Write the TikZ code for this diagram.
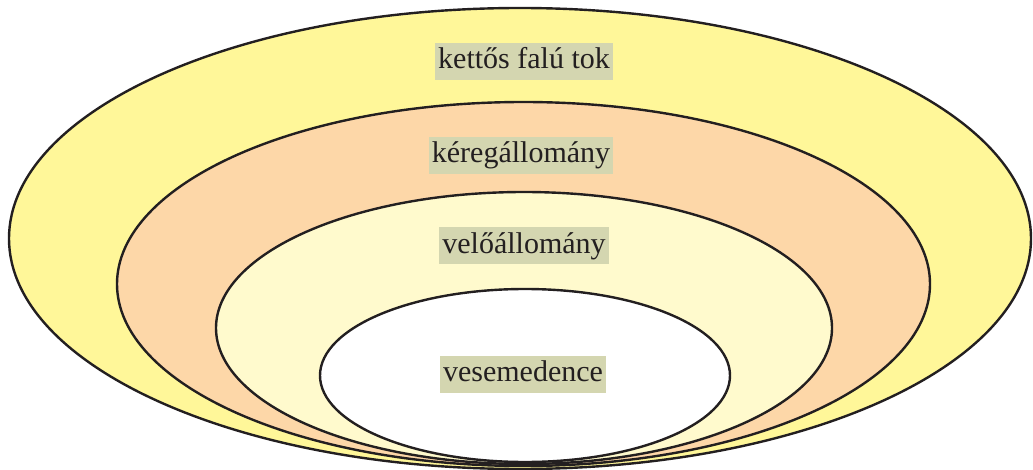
\documentclass[tikz,border=0pt]{standalone}
\usepackage{fontspec}
\setmainfont{Liberation Serif}
\usepackage{tikz}
\usepackage{xcolor}
\usetikzlibrary{positioning}
\definecolor{LayerInk}{HTML}{231F20}
\definecolor{CapsuleFill}{HTML}{FFF799}
\definecolor{CortexFill}{HTML}{FDD7A8}
\definecolor{MedullaFill}{HTML}{FFFACD}
\definecolor{TagFill}{HTML}{D4D6B0}

\begin{document}
\begin{tikzpicture}[
    x=1pt, y=-1pt,
    layer/.style={
      draw=LayerInk,
      line width=2.4pt,
    },
    tag/.style={
      fill=TagFill,
      text=LayerInk,
      inner xsep=3pt,
      inner ysep=3pt,
      text height=23pt,
      text depth=8pt,
      font=\fontsize{30}{34}\selectfont,
    },
  ]
    \useasboundingbox (0,0) rectangle (1033,470);
    % nested layers, outside in
    \draw[layer, fill=CapsuleFill] (520,238.5) ellipse [x radius=511, y radius=230.5];
    \draw[layer, fill=CortexFill] (523.5,284) ellipse [x radius=406.5, y radius=182];
    \draw[layer, fill=MedullaFill] (524,328) ellipse [x radius=308, y radius=136];
    \draw[layer, fill=white] (525,375.5) ellipse [x radius=205, y radius=86.5];
    % labels
    \node[tag] (capsule) at (524,61.5) {kettős falú tok};
    \node[tag] (cortex) at (521,155.5) {kéregállomány};
    \node[tag] (medulla) at (524,246) {velőállomány};
    \node[tag] (pelvis) at (523,374) {vesemedence};
  \end{tikzpicture}
\end{document}
